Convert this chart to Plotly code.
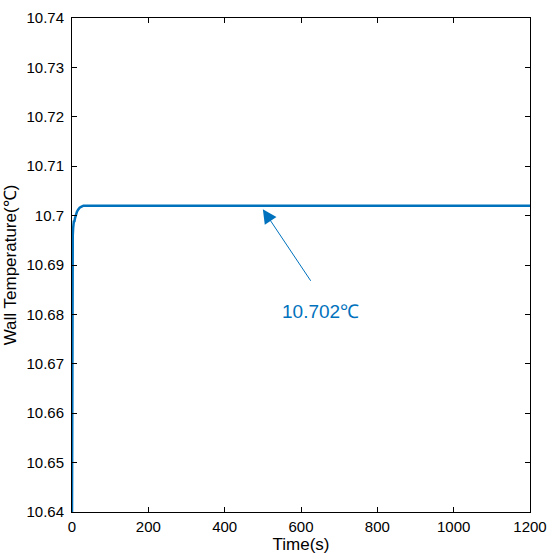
import plotly.graph_objects as go

time_s = [0, 0.3, 0.7, 1, 1.5, 2, 3, 4, 5, 6, 8, 10, 13, 16, 20, 25, 30, 40, 60, 100, 200, 400, 600, 800, 1000, 1200]
wall_temp = [10.64, 10.66, 10.678, 10.687, 10.693, 10.696, 10.6975, 10.6985, 10.699, 10.6987, 10.6995, 10.7002, 10.7008, 10.7012, 10.7016, 10.7018, 10.702, 10.702, 10.702, 10.702, 10.702, 10.702, 10.702, 10.702, 10.702, 10.702]
x_ticks = [0, 200, 400, 600, 800, 1000, 1200]
y_ticks = [10.64, 10.65, 10.66, 10.67, 10.68, 10.69, 10.70, 10.71, 10.72, 10.73, 10.74]
y_tick_text = ["10.64", "10.65", "10.66", "10.67", "10.68", "10.69", "10.7", "10.71", "10.72", "10.73", "10.74"]
label_text = "10.702℃"
arrow_head = (500, 10.7013)
arrow_tail = (628, 10.6865)
label_pos = (652, 10.6806)

blue = "#0072BD"
font_fam = "Liberation Sans, Arial"

fig = go.Figure()
fig.add_trace(go.Scatter(x=time_s, y=wall_temp, mode="lines",
                         line=dict(color=blue, width=2.5), showlegend=False))

fig.add_annotation(x=arrow_head[0], y=arrow_head[1], ax=arrow_tail[0], ay=arrow_tail[1],
                   xref="x", yref="y", axref="x", ayref="y", text="",
                   showarrow=True, arrowhead=2, arrowsize=2.8, arrowwidth=1, arrowcolor=blue)
fig.add_annotation(x=label_pos[0], y=label_pos[1], xref="x", yref="y", text=label_text,
                   showarrow=False, font=dict(family=font_fam, size=19, color=blue))

axis_common = dict(showgrid=False, zeroline=False, showline=True, linecolor="black", linewidth=1,
                   mirror="allticks", ticks="inside", ticklen=5, tickcolor="black",
                   tickfont=dict(family=font_fam, size=15, color="black"))

fig.update_xaxes(range=[0, 1200], tickvals=x_ticks, ticklabelstandoff=1,
                 title=dict(text="Time(s)", standoff=2,
                 font=dict(family=font_fam, size=17, color="black")), **axis_common)
fig.update_yaxes(range=[10.64, 10.74], tickvals=y_ticks, ticktext=y_tick_text, ticklabelstandoff=4,
                 title=dict(text="Wall Temperature(℃)", standoff=5,
                 font=dict(family=font_fam, size=17, color="black")), **axis_common)

fig.update_layout(width=556, height=558, margin=dict(l=72, r=23, t=9, b=43),
                  plot_bgcolor="white", paper_bgcolor="white")

fig.write_html("out.html")
